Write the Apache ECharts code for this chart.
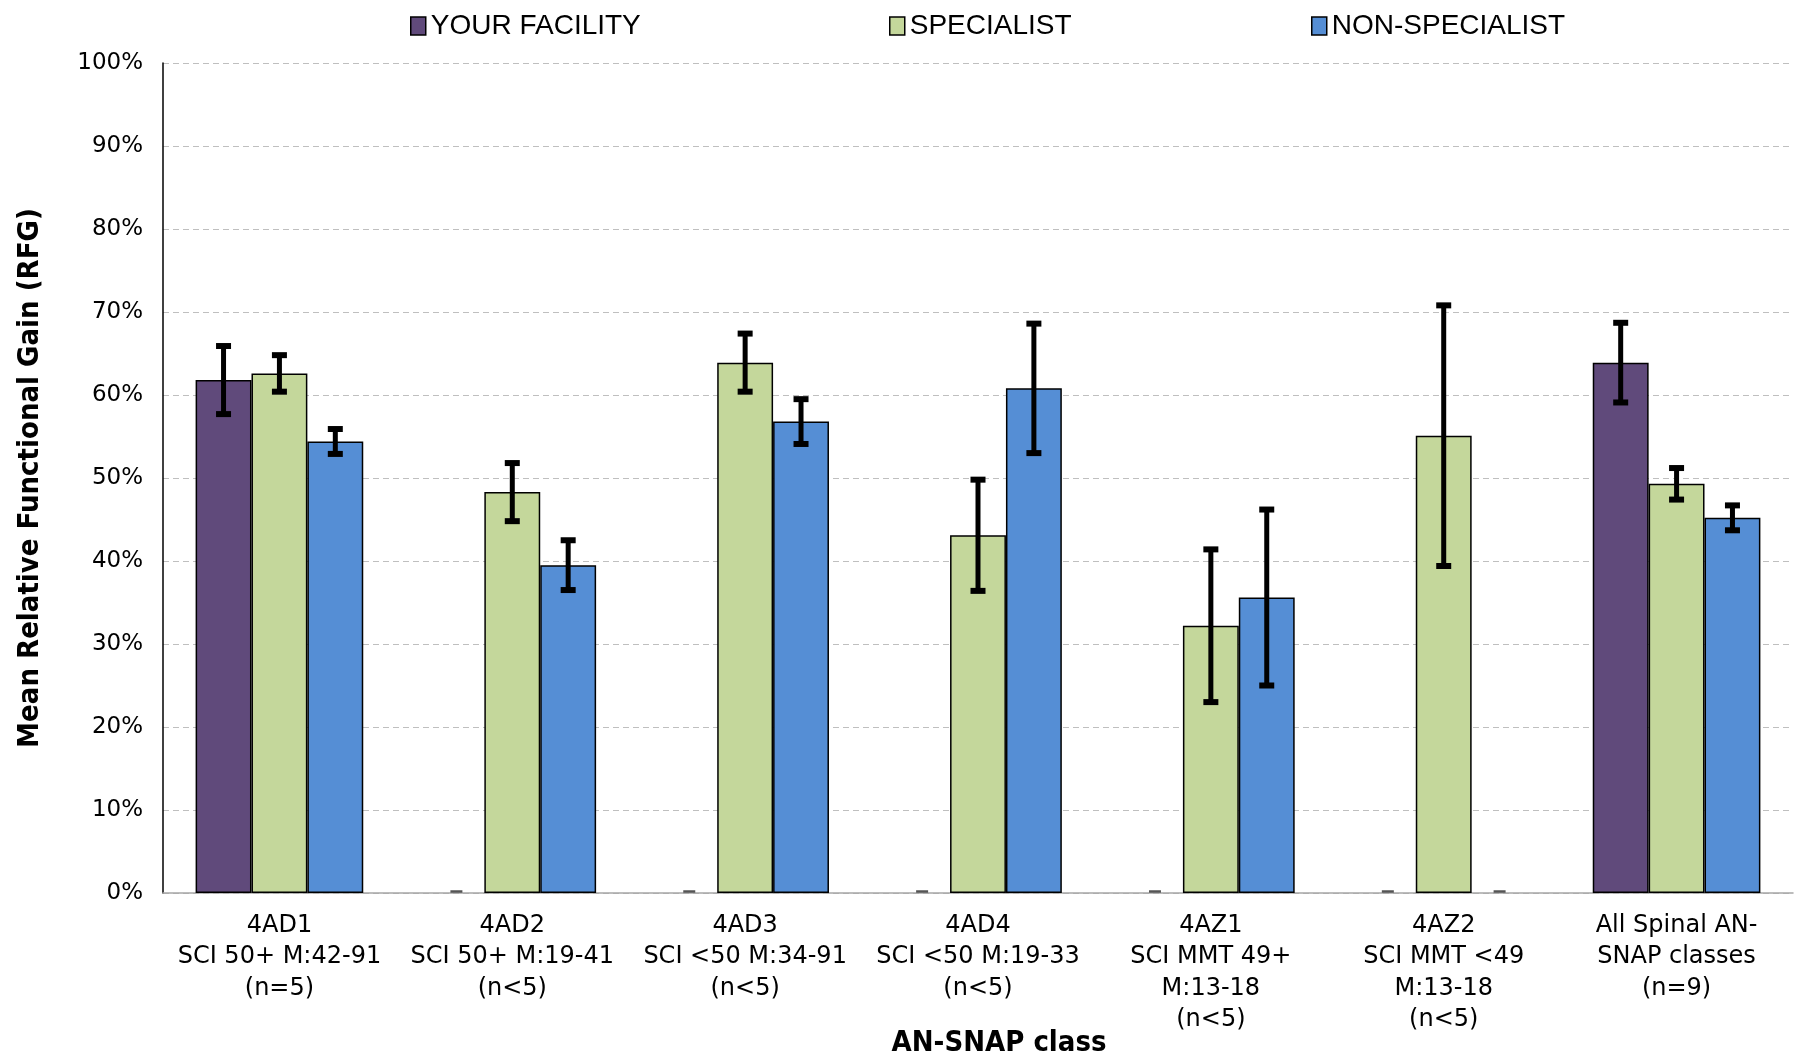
<!DOCTYPE html>
<html>
<head>
<meta charset="utf-8">
<script src="https://cdn.jsdelivr.net/npm/echarts@6/dist/echarts.min.js"></script>
<style>
html,body{margin:0;padding:0;background:#fff;}
#chart{width:1797px;height:1060px;}
</style>
</head>
<body>
<div id="chart"></div>
<script>
const categories = [
  '4AD1\nSCI 50+ M:42-91\n(n=5)',
  '4AD2\nSCI 50+ M:19-41\n(n<5)',
  '4AD3\nSCI <50 M:34-91\n(n<5)',
  '4AD4\nSCI <50 M:19-33\n(n<5)',
  '4AZ1\nSCI MMT 49+\nM:13-18\n(n<5)',
  '4AZ2\nSCI MMT <49\nM:13-18\n(n<5)',
  'All Spinal AN-\nSNAP classes\n(n=9)'
];
const seriesNames = ['YOUR FACILITY', 'SPECIALIST', 'NON-SPECIALIST'];
const facility = [61.8, null, null, null, null, null, 63.9];
const facilityErr = [4.1, 0, 0, 0, 0, 0, 4.8];
const specialist = [62.6, 48.3, 63.9, 43.1, 32.2, 55.1, 49.3];
const specialistErr = [2.2, 3.5, 3.5, 6.7, 9.2, 15.7, 1.9];
const nonSpecialist = [54.4, 39.5, 56.8, 60.8, 35.6, null, 45.2];
const nonSpecialistErr = [1.5, 3.0, 2.7, 7.8, 10.6, 0, 1.5];
const yTicks = [0, 10, 20, 30, 40, 50, 60, 70, 80, 90, 100];

const colors = ['#604A7B', '#C4D79B', '#558ED5'];
const CAT_GAP = 0.28;

function barSeries(name, vals, color) {
  return {
    name: name, type: 'bar',
    data: vals.map(v => v === null ? '-' : v),
    barGap: '0%', barCategoryGap: (CAT_GAP * 100) + '%',
    itemStyle: { color: color, borderColor: '#000', borderWidth: 1.5 },
    z: 2
  };
}
function errSeries(vals, errs, slot) {
  return {
    type: 'custom',
    z: 5,
    encode: { x: 0, y: 1 },
    data: vals.map((v, i) => [i, v === null ? 0 : v, errs[i], v === null ? 1 : 0]),
    renderItem: function (params, api) {
      const i = api.value(0), v = api.value(1), e = api.value(2), miss = api.value(3);
      const band = api.size([1, 0])[0];
      const bw = band * (1 - CAT_GAP) / 3;
      const cx = api.coord([i, 0])[0] + slot * bw;
      if (miss) {
        const y0 = api.coord([i, 0])[1];
        return { type: 'line', shape: { x1: cx - 6, y1: y0 - 1.5, x2: cx + 6, y2: y0 - 1.5 },
          style: { stroke: '#555', lineWidth: 2.5 } };
      }
      const yt = api.coord([i, v + e])[1];
      const yb = api.coord([i, v - e])[1];
      const st = { stroke: '#000', lineWidth: 5 };
      const cap = { stroke: '#000', lineWidth: 6 };
      return { type: 'group', children: [
        { type: 'line', shape: { x1: cx, y1: yt, x2: cx, y2: yb }, style: st },
        { type: 'line', shape: { x1: cx - 7.5, y1: yt, x2: cx + 7.5, y2: yt }, style: cap },
        { type: 'line', shape: { x1: cx - 7.5, y1: yb, x2: cx + 7.5, y2: yb }, style: cap }
      ] };
    }
  };
}

const legendFont = { fontFamily: 'Liberation Sans', fontSize: 28, color: '#000' };
function legendAt(name, left) {
  return { data: [name], left: left, top: 7, itemWidth: 15, itemHeight: 18, itemGap: 5,
    icon: 'rect', textStyle: legendFont, selectedMode: false,
    itemStyle: { borderColor: '#000', borderWidth: 1.5 } };
}

const chart = echarts.init(document.getElementById('chart'));
chart.setOption({
  animation: false,
  backgroundColor: '#fff',
  legend: [
    legendAt(seriesNames[0], 405),
    legendAt(seriesNames[1], 884),
    legendAt(seriesNames[2], 1306)
  ],
  grid: { left: 163, right: 4, top: 63, bottom: 167, containLabel: false },
  xAxis: {
    type: 'category', data: categories,
    axisLine: { lineStyle: { color: '#A6A6A6', width: 1.5 } },
    axisTick: { show: false },
    axisLabel: { interval: 0, fontFamily: 'DejaVu Sans', fontSize: 24, color: '#000',
      lineHeight: 31.5, margin: 17 }
  },
  yAxis: {
    type: 'value', min: 0, max: 100, interval: 10,
    name: 'Mean Relative Functional Gain (RFG)', nameLocation: 'middle', nameGap: 118,
    nameTextStyle: { fontFamily: 'DejaVu Sans Condensed', fontWeight: 'bold', fontSize: 29, color: '#000' },
    axisLine: { show: true, lineStyle: { color: '#000', width: 1.5 } },
    axisTick: { show: false },
    axisLabel: { fontFamily: 'DejaVu Sans', fontSize: 23, color: '#000', margin: 20,
      formatter: v => yTicks.indexOf(v) >= 0 ? v + '%' : '' },
    splitLine: { lineStyle: { color: '#BFBFBF', type: [6, 4], width: 1.2 } }
  },
  graphic: [{
    type: 'text', x: 999, y: 1043,
    style: { text: 'AN-SNAP class', textAlign: 'center', textVerticalAlign: 'middle',
      font: 'bold 29px "DejaVu Sans Condensed"', fill: '#000' }
  }],
  series: [
    barSeries(seriesNames[0], facility, colors[0]),
    barSeries(seriesNames[1], specialist, colors[1]),
    barSeries(seriesNames[2], nonSpecialist, colors[2]),
    errSeries(facility, facilityErr, -1),
    errSeries(specialist, specialistErr, 0),
    errSeries(nonSpecialist, nonSpecialistErr, 1)
  ]
});
</script>
</body>
</html>
